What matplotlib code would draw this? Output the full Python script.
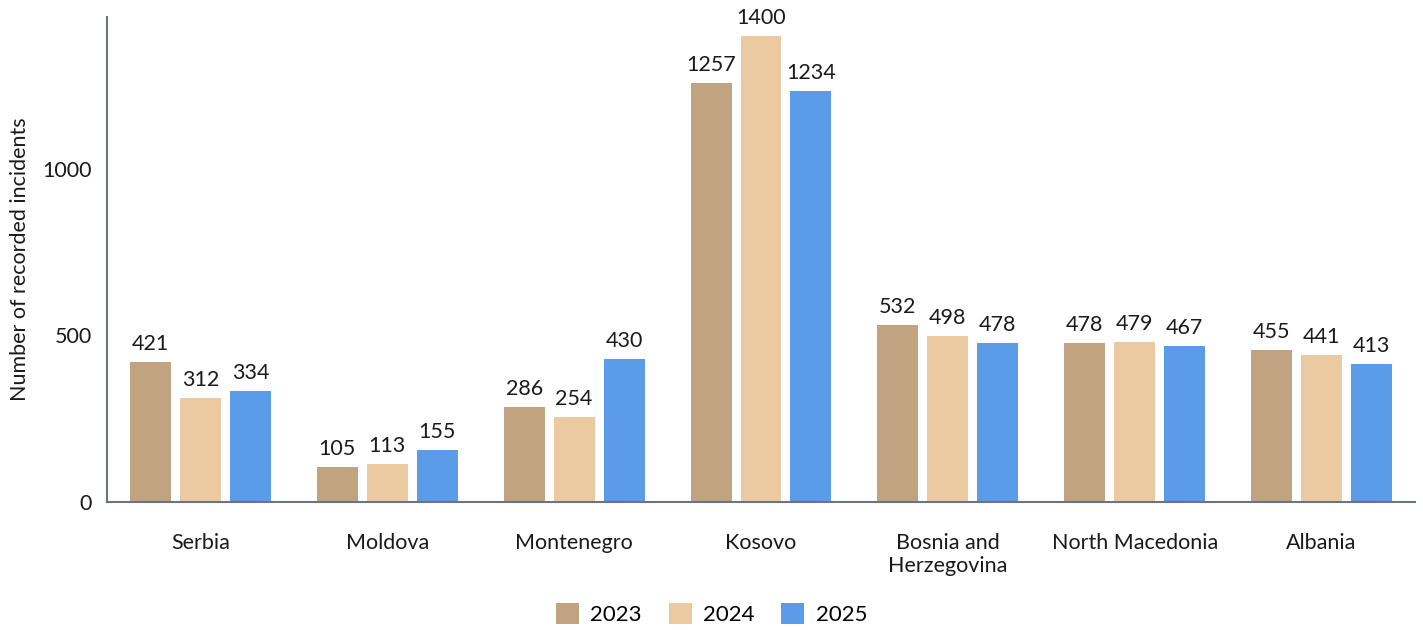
import matplotlib
matplotlib.use("Agg")
import matplotlib.pyplot as plt
import numpy as np

plt.rcParams['font.family'] = ['Lato', 'DejaVu Sans']

categories = ["Serbia", "Moldova", "Montenegro", "Kosovo", "Bosnia and\nHerzegovina", "North Macedonia", "Albania"]
years = ["2023", "2024", "2025"]
v2023 = [421, 105, 286, 1257, 532, 478, 455]
v2024 = [312, 113, 254, 1400, 498, 479, 441]
v2025 = [334, 155, 430, 1234, 478, 467, 413]
colors = ["#C2A37F", "#EBCAA2", "#5B9CE8"]

fig = plt.figure(figsize=(14.23, 6.3), dpi=100)
ax = fig.add_axes([107/1423, 1-502/630, (1415-107)/1423, (502-17)/630])

x = np.arange(len(categories))
w = 41/187
step = 50/187
for i, (vals, c, yr) in enumerate(zip([v2023, v2024, v2025], colors, years)):
    pos = x + (i-1)*step
    ax.bar(pos, vals, width=w, color=c, label=yr)
    for p, v in zip(pos, vals):
        ax.text(p, v + 24, str(v), ha='center', va='bottom', fontsize=15.5, color='#1a1a1a')

ax.set_xlim(-0.5, len(categories)-0.5)
ax.set_ylim(0, 1456)
ax.set_yticks([0, 500, 1000])
ax.set_xticks(x)
ax.set_xticklabels(categories, fontsize=15.5, color='#1a1a1a', linespacing=1.15, va='top')
ax.tick_params(axis='x', length=0, pad=22.5)
ax.tick_params(axis='y', length=0, pad=11, labelsize=15.5, labelcolor='#1a1a1a')
for s in ['top', 'right']:
    ax.spines[s].set_visible(False)
for s in ['left', 'bottom']:
    ax.spines[s].set_color('#6B7480')
    ax.spines[s].set_linewidth(1.5)
ax.set_ylabel("Number of recorded incidents", fontsize=15.5, color='#1a1a1a', labelpad=9)

fig.legend(loc='center', bbox_to_anchor=(0.5, 1-614/630), ncol=3, frameon=False,
           fontsize=16, handlelength=1.05, handleheight=1.05, handletextpad=0.5, columnspacing=1.2)

fig.savefig("out.png", dpi=100)
